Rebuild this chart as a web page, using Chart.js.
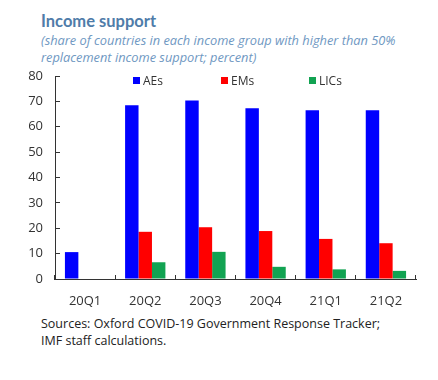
<!DOCTYPE html>
<html>
<head>
<meta charset="utf-8">
<script src="https://cdn.jsdelivr.net/npm/chart.js@4"></script>
<style>
  body { margin: 0; background: #fff; width: 438px; height: 380px; overflow: hidden; position: relative; font-family: "Open Sans", sans-serif; }
  #title { position: absolute; left: 41px; top: 11px; font-family: Lato, sans-serif; font-size: 16.5px; font-weight: bold; color: #4f7ca9; }
  #subtitle { position: absolute; left: 41px; top: 32px; font-size: 12.8px; font-style: italic; color: #6f98c2; line-height: 17px; }
  #wrap { position: absolute; left: 0; top: 60px; width: 438px; height: 250px; }
  #legend { position: absolute; left: 133px; top: 72px; display: flex; font-size: 12px; color: #333; }
  #legend .item { width: 88px; display: flex; align-items: center; }
  #legend .box { width: 7px; height: 7px; margin-right: 3px; }
  #note { position: absolute; left: 41px; top: 315px; font-size: 12.5px; color: #222; line-height: 17px; }
</style>
</head>
<body>
<div id="title">Income support</div>
<div id="subtitle">(share of countries in each income group with higher than 50%<br>replacement income support; percent)</div>
<div id="wrap"><canvas id="incomeChart"></canvas></div>
<div id="legend"></div>
<div id="note">Sources: Oxford COVID-19 Government Response Tracker;<br>IMF staff calculations.</div>
<script>
// values
var quarters = ['20Q1', '20Q2', '20Q3', '20Q4', '21Q1', '21Q2'];
var aes = [10.6, 68.5, 70.3, 67.3, 66.5, 66.5];
var ems = [0, 18.6, 20.4, 18.9, 15.8, 14.1];
var lics = [0, 6.6, 10.7, 4.8, 3.8, 3.2];
var yTicks = [0, 10, 20, 30, 40, 50, 60, 70, 80];

var tickFont = { family: 'Open Sans', size: 13 };

var ctx = document.getElementById('incomeChart').getContext('2d');
var incomeChart = new Chart(ctx, {
    type: 'bar',
    data: {
        labels: quarters,
        datasets: [
            { label: 'AEs', data: aes, backgroundColor: '#0000ff' },
            { label: 'EMs', data: ems, backgroundColor: '#ff0000' },
            { label: 'LICs', data: lics, backgroundColor: '#12a352' }
        ]
    },
    options: {
        responsive: true,
        maintainAspectRatio: false,
        animation: false,
        layout: { padding: { left: 0, right: 22, top: 16, bottom: 3 } },
        datasets: { bar: { categoryPercentage: 0.67, barPercentage: 1 } },
        plugins: {
            legend: { display: false },
            tooltip: { enabled: false }
        },
        scales: {
            x: {
                grid: { display: true, drawOnChartArea: false, offset: true, tickLength: -4, color: '#333' },
                border: { color: '#333' },
                ticks: { color: '#333', font: tickFont, padding: 18, maxRotation: 0 },
                afterFit: function (scale) {
                    scale.height = 28;
                    scale.paddingLeft = 0;
                    scale.paddingRight = 0;
                }
            },
            y: {
                min: 0,
                max: 80,
                afterBuildTicks: function (scale) {
                    scale.ticks = yTicks.map(function (v) { return { value: v }; });
                },
                grid: { display: true, drawOnChartArea: false, tickLength: -5, color: '#333' },
                border: { color: '#333' },
                ticks: { color: '#333', font: tickFont, padding: 17 },
                afterFit: function (scale) {
                    scale.width = 55;
                    scale.paddingTop = 0;
                    scale.paddingBottom = 0;
                }
            }
        }
    }
});

// legend built from the chart's datasets
var legendEl = document.getElementById('legend');
incomeChart.data.datasets.forEach(function (ds) {
    var item = document.createElement('div');
    item.className = 'item';
    var box = document.createElement('span');
    box.className = 'box';
    box.style.background = ds.backgroundColor;
    var txt = document.createElement('span');
    txt.textContent = ds.label;
    item.appendChild(box);
    item.appendChild(txt);
    legendEl.appendChild(item);
});
</script>
</body>
</html>
